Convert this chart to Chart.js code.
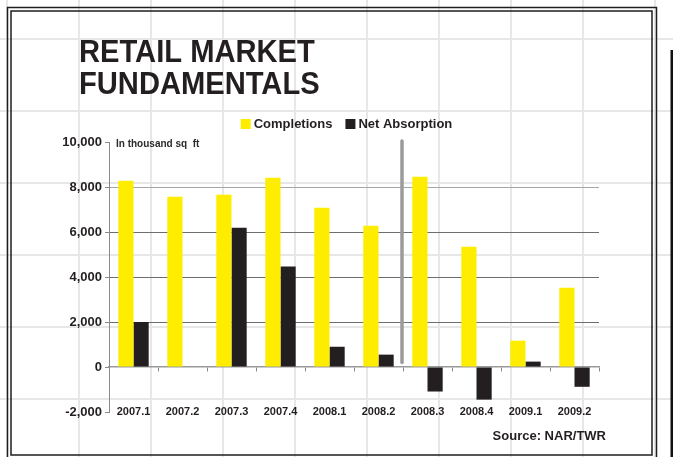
<!DOCTYPE html>
<html>
<head>
<meta charset="utf-8">
<title>Retail Market Fundamentals</title>
<script src="https://cdn.jsdelivr.net/npm/chart.js@4"></script>
<style>
  html, body { margin: 0; padding: 0; background: #ffffff; }
  #wrap { position: relative; width: 673px; height: 457px; overflow: hidden; }
  canvas { display: block; }
</style>
</head>
<body>
<div id="wrap"><canvas id="chart" width="673" height="457"></canvas></div>
<script>
// Quarterly retail space, in thousand sq ft
const quarters = ['2007.1', '2007.2', '2007.3', '2007.4', '2008.1', '2008.2', '2008.3', '2008.4', '2009.1', '2009.2'];
const completions = [8280, 7570, 7660, 8410, 7080, 6280, 8460, 5350, 1170, 3520];
const netAbsorption = [2000, null, 6190, 4470, 900, 550, -1090, -1450, 240, -880];
const valueTicks = [-2000, 0, 2000, 4000, 6000, 8000, 10000];

// Divider between actual and later quarters, spanning these values
const dividerAfter = '2008.2';
const dividerRange = [200, 10050];

const titleLines = ['RETAIL MARKET', 'FUNDAMENTALS'];
const unitNote = 'In thousand sq  ft';
const sourceNote = 'Source: NAR/TWR';

const FONT = "'Liberation Sans', Arial, Helvetica, sans-serif";
const INK = '#231f20';

// Page background: light ruled grid and a double frame
const pagePlugin = {
  id: 'page',
  beforeDraw(chart) {
    const ctx = chart.ctx;
    const W = chart.width, H = chart.height;
    ctx.save();
    ctx.fillStyle = '#ffffff';
    ctx.fillRect(0, 0, W, H);
    ctx.strokeStyle = '#e7e7e7';
    ctx.lineWidth = 2;
    ctx.beginPath();
    for (let x = 7; x < W; x += 72) { ctx.moveTo(x, 0); ctx.lineTo(x, H); }
    for (let y = 39; y < H; y += 72) { ctx.moveTo(0, y); ctx.lineTo(W, y); }
    ctx.stroke();

    ctx.strokeStyle = '#1e1e1e';
    ctx.lineWidth = 1.5;
    ctx.strokeRect(7.5, 7.5, 649, 452);
    ctx.strokeRect(11, 11, 641, 444);
    ctx.fillStyle = '#111111';
    ctx.fillRect(670.5, 50, 2.5, H - 50);

    // Title
    ctx.fillStyle = INK;
    ctx.font = 'bold 31px ' + FONT;
    ctx.textBaseline = 'alphabetic';
    ctx.textAlign = 'left';
    titleLines.forEach((line, i) => {
      ctx.save();
      ctx.translate(79, 61.6 + i * 32.6);
      ctx.scale(0.94, 1);
      ctx.fillText(line, 0, 0);
      ctx.restore();
    });
    ctx.restore();
  }
};

// Legend, unit note, divider and source line
const notesPlugin = {
  id: 'notes',
  afterDatasetsDraw(chart) {
    const ctx = chart.ctx;
    const xs = chart.scales.x, ys = chart.scales.y;
    const idx = quarters.indexOf(dividerAfter);
    const dx = (xs.getPixelForValue(idx) + xs.getPixelForValue(idx + 1)) / 2 - 1;
    ctx.save();
    ctx.strokeStyle = '#9b9b9d';
    ctx.lineWidth = 3.5;
    ctx.lineCap = 'round';
    ctx.beginPath();
    ctx.moveTo(dx, ys.getPixelForValue(dividerRange[0]));
    ctx.lineTo(dx, ys.getPixelForValue(dividerRange[1]));
    ctx.stroke();
    ctx.restore();
  },
  afterDraw(chart) {
    const ctx = chart.ctx;
    const area = chart.chartArea;
    const ys = chart.scales.y;
    ctx.save();

    // legend
    ctx.font = 'bold 13px ' + FONT;
    ctx.textBaseline = 'middle';
    ctx.textAlign = 'left';
    const items = chart.data.datasets.map(d => ({ label: d.label, color: d.backgroundColor, w: ctx.measureText(d.label).width }));
    const box = 10, gap = 3, spacing = 13;
    let total = 0;
    items.forEach((it, i) => { total += box + gap + it.w + (i ? spacing : 0); });
    let x = (area.left + area.right) / 2 - 7.5 - total / 2;
    const ly = 124;
    items.forEach(it => {
      ctx.fillStyle = it.color;
      ctx.fillRect(x, ly - box / 2, box, box);
      x += box + gap;
      ctx.fillStyle = INK;
      ctx.fillText(it.label, x, ly + 0.5);
      x += it.w + spacing;
    });

    // unit note beside the top tick
    ctx.font = 'bold 10px ' + FONT;
    ctx.fillStyle = '#2b2b2b';
    ctx.fillText(unitNote, area.left + 7, ys.getPixelForValue(valueTicks[valueTicks.length - 1]) + 2);

    // source
    ctx.font = 'bold 13px ' + FONT;
    ctx.fillStyle = INK;
    ctx.textAlign = 'right';
    ctx.fillText(sourceNote, area.right + 7, 436);
    ctx.restore();
  }
};

function gridColor(ctx) {
  const v = ctx.tick && ctx.tick.value;
  if (v === 8000) return '#a6a6a6';
  if (v === 2000 || v === 4000 || v === 6000) return '#6e6e6e';
  return 'rgba(0,0,0,0)';
}

new Chart(document.getElementById('chart'), {
  type: 'bar',
  data: {
    labels: quarters,
    datasets: [
      { label: 'Completions', data: completions, backgroundColor: '#ffed00' },
      { label: 'Net Absorption', data: netAbsorption, backgroundColor: '#231f20' }
    ]
  },
  plugins: [pagePlugin, notesPlugin],
  options: {
    responsive: false,
    animation: false,
    events: [],
    layout: { padding: { left: 40, right: 74, top: 142, bottom: 45 } },
    datasets: { bar: { categoryPercentage: 0.62, barPercentage: 1.0 } },
    plugins: { legend: { display: false }, tooltip: { enabled: false }, title: { display: false } },
    scales: {
      x: {
        type: 'category',
        axis: 'x',
        position: { y: 0 },
        offset: true,
        grid: { offset: true, drawOnChartArea: false, drawTicks: true, tickLength: 4, tickColor: '#8a8a8a' },
        border: { display: true, color: '#9a9a9a', width: 1.5 },
        ticks: { display: false }
      },
      x2: {
        type: 'category',
        axis: 'x',
        position: { y: valueTicks[0] },
        offset: true,
        grid: { display: false, drawTicks: false },
        border: { display: false },
        ticks: {
          color: INK,
          font: { family: FONT, size: 11, weight: 'bold' },
          padding: -7,
          maxRotation: 0,
          autoSkip: false
        }
      },
      y: {
        type: 'linear',
        position: 'left',
        min: valueTicks[0],
        max: valueTicks[valueTicks.length - 1],
        afterBuildTicks(scale) { scale.ticks = valueTicks.map(v => ({ value: v })); },
        grid: { color: gridColor, lineWidth: 1, drawTicks: true, tickLength: 4, tickColor: '#8a8a8a' },
        border: { display: true, color: '#8a8a8a', width: 1 },
        ticks: {
          color: INK,
          font: { family: FONT, size: 13, weight: 'bold' },
          padding: 3,
          callback: v => Number(v).toLocaleString('en-US')
        },
        afterFit(scale) { scale.width = 69; }
      }
    }
  }
});
</script>
</body>
</html>
